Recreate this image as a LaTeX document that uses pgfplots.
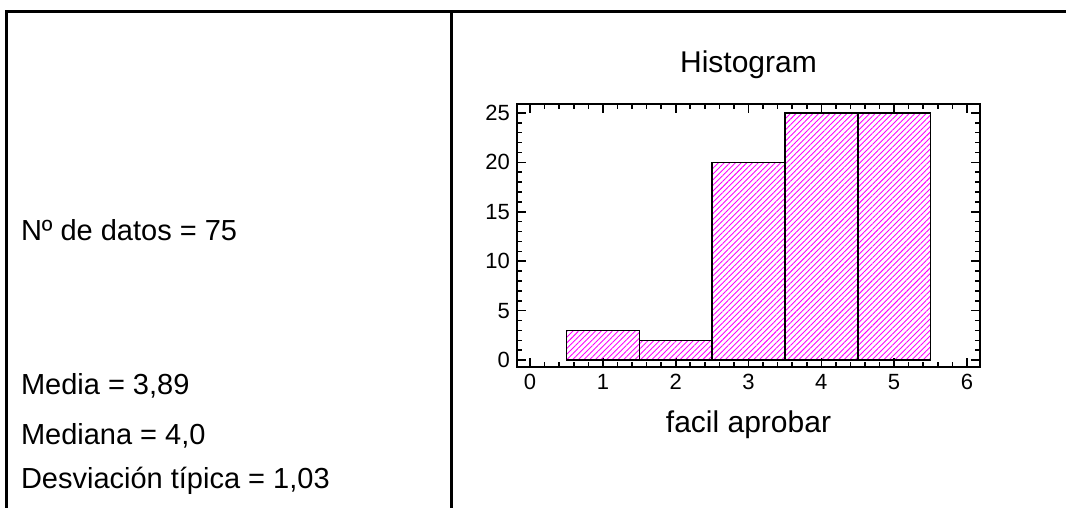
\documentclass[border=0pt]{standalone}
\usepackage{fontspec}
\setmainfont{Liberation Sans}
\usepackage{pgfplots}
\pgfplotsset{compat=1.18}
\usetikzlibrary{patterns.meta}

\begin{document}
\begin{tikzpicture}
\useasboundingbox (0,0) rectangle (533pt,254pt);

% table frame
\draw[line width=1.5pt] (3pt,0) -- (3pt,248pt) -- (533pt,248pt);
\draw[line width=1.5pt] (225.5pt,0) -- (225.5pt,248pt);

% summary text
\begin{scope}[every node/.style={anchor=base west, inner sep=0pt, font=\fontsize{14.5}{17}\selectfont}]
\node at (10.3pt,133.5pt) {Nº de datos = 75};
\node at (10.3pt,56.5pt) {Media = 3,89};
\node at (10.3pt,31.5pt) {Mediana = 4,0};
\node at (10.3pt,9.5pt) {Desviación típica = 1,03};
\end{scope}

\begin{axis}[
    at={(258.5pt,70.5pt)}, anchor=south west,
    scale only axis,
    width=231.5pt, height=131.5pt,
    xmin=-0.18, xmax=6.18,
    ymin=-0.7, ymax=25.9,
    xtick={0,1,...,6},
    ytick={0,5,...,25},
    minor x tick num=4,
    minor y tick num=4,
    tick align=inside,
    major tick length=4.5pt,
    minor tick length=2.5pt,
    tick style={black, line width=0.8pt},
    axis line style={line width=1pt},
    /pgf/number format/assume math mode=true,
    tick label style={font=\fontsize{11}{13}\selectfont},
    title={Histogram},
    title style={at={(0.5,1)}, anchor=base, yshift=9.5pt, inner sep=0pt, font=\fontsize{15}{18}\selectfont},
    xlabel={facil aprobar},
    xlabel style={at={(axis description cs:0.5,0)}, anchor=base, yshift=-33pt, inner sep=0pt, font=\fontsize{15}{18}\selectfont},
]
\addplot[ybar, bar width=1, bar shift=0, draw=black, line width=0.8pt,
    pattern={Lines[angle=45, distance=2pt, line width=0.45pt]}, pattern color=magenta]
    coordinates {(1,3) (2,2) (3,20) (4,25) (5,25)};
\end{axis}
\end{tikzpicture}
\end{document}
